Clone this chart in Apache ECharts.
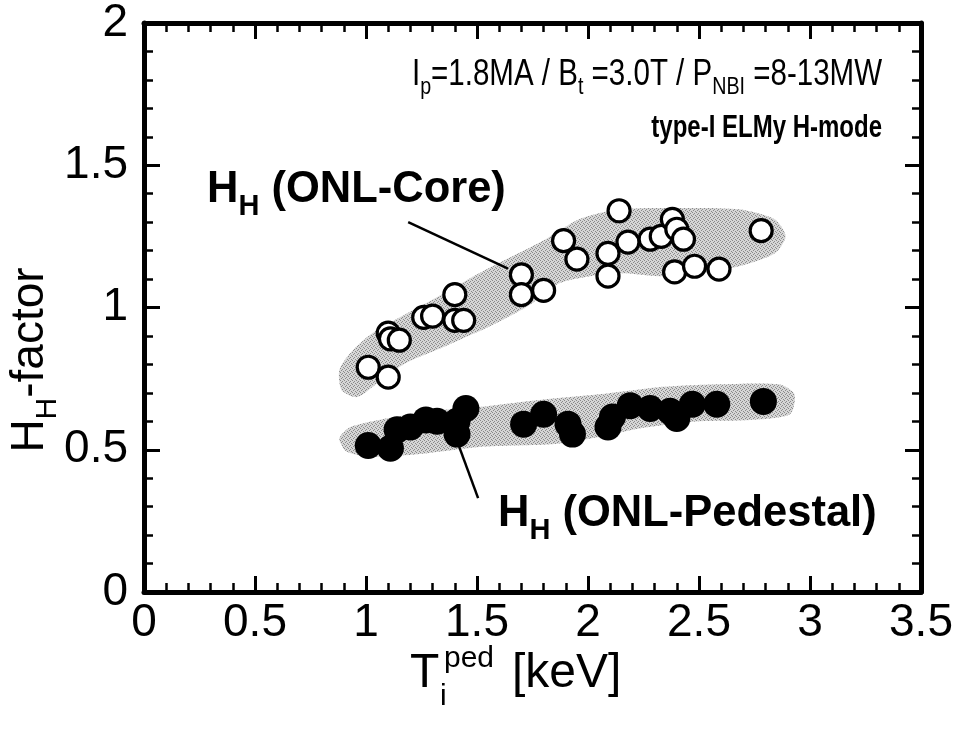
<!DOCTYPE html>
<html>
<head>
<meta charset="utf-8">
<script src="https://cdn.jsdelivr.net/npm/echarts@6/dist/echarts.min.js"></script>
<style>
  html, body { margin: 0; padding: 0; background: #fff; }
  #chart { width: 958px; height: 742px; }
</style>
</head>
<body>
<div id="chart"></div>
<script>
// H_H factor versus pedestal ion temperature, type-I ELMy H-mode
const xTickLabels = ['0', '0.5', '1', '1.5', '2', '2.5', '3', '3.5'];
const yTickLabels = ['0', '0.5', '1', '1.5', '2'];

// H_H (ONL-Core): pedestal Ti [keV] and H_H
const coreTi = [1.01, 1.10, 1.10, 1.11, 1.15, 1.26, 1.30, 1.40, 1.40, 1.44, 1.70, 1.70, 1.80, 1.89,
                1.95, 2.09, 2.09, 2.14, 2.18, 2.28, 2.33, 2.38, 2.40, 2.43, 2.39, 2.48, 2.59, 2.78];
const coreHH = [0.79, 0.755, 0.91, 0.89, 0.885, 0.965, 0.97, 1.045, 0.955, 0.955, 1.115, 1.045, 1.06, 1.235,
                1.17, 1.19, 1.11, 1.34, 1.23, 1.24, 1.25, 1.31, 1.275, 1.24, 1.125, 1.145, 1.135, 1.27];

// H_H (ONL-Pedestal)
const pedTi = [1.01, 1.11, 1.14, 1.20, 1.27, 1.32, 1.41, 1.41, 1.45, 1.71, 1.80, 1.91, 1.93,
               2.09, 2.11, 2.19, 2.28, 2.37, 2.40, 2.47, 2.58, 2.79];
const pedHH = [0.515, 0.505, 0.57, 0.58, 0.605, 0.60, 0.555, 0.60, 0.645, 0.59, 0.625, 0.59, 0.555,
               0.58, 0.615, 0.655, 0.645, 0.635, 0.61, 0.66, 0.66, 0.67];

// shaded envelopes around each group, [Ti, H_H]
const coreBand = [[0.88, 0.78], [0.93, 0.84], [1.03, 0.91], [1.33, 1.04], [1.51, 1.12], [1.66, 1.18],
                  [1.81, 1.24], [1.96, 1.31], [2.14, 1.345], [2.41, 1.35], [2.68, 1.345], [2.84, 1.31],
                  [2.89, 1.25], [2.84, 1.19], [2.68, 1.145], [2.50, 1.12], [2.32, 1.11], [2.16, 1.12],
                  [2.01, 1.11], [1.87, 1.085], [1.73, 1.005], [1.56, 0.935], [1.36, 0.865], [1.18, 0.805],
                  [1.06, 0.74], [0.96, 0.685], [0.89, 0.71]];
const pedBand = [[0.88, 0.54], [0.93, 0.58], [1.06, 0.605], [1.29, 0.635], [1.51, 0.65], [1.78, 0.675],
                 [2.05, 0.695], [2.32, 0.72], [2.59, 0.73], [2.86, 0.73], [2.93, 0.695], [2.91, 0.625],
                 [2.73, 0.605], [2.50, 0.60], [2.23, 0.575], [2.05, 0.545], [1.85, 0.52], [1.51, 0.51],
                 [1.24, 0.485], [1.02, 0.475], [0.91, 0.495]];

// leader lines from the labels to each group
const coreLeader = [[1.19, 1.30], [1.64, 1.137]];
const pedLeader = [[1.42, 0.51], [1.505, 0.33]];

const FONT = "'Liberation Sans', Arial, Helvetica, sans-serif";
const coreData = coreTi.map((t, i) => [t, coreHH[i]]);
const pedData = pedTi.map((t, i) => [t, pedHH[i]]);

// small stipple tile used to shade the envelopes
const stipple = document.createElement('canvas');
stipple.width = 4; stipple.height = 4;
(function () {
  const c = stipple.getContext('2d');
  c.fillStyle = '#d6d6d6'; c.fillRect(0, 0, 4, 4);
  c.fillStyle = '#8a8a8a';
  [[0, 0], [2, 1], [1, 2], [3, 3]].forEach(([x, y]) => c.fillRect(x, y, 1, 1));
})();

const chart = echarts.init(document.getElementById('chart'), null, { renderer: 'canvas' });

function frameAxis(extra) {
  return Object.assign({
    type: 'value',
    interval: 0.5,
    splitLine: { show: false },
    axisLine: { show: true, onZero: false, lineStyle: { color: '#000', width: 5 } },
    axisTick: { show: true, inside: true, length: 16, lineStyle: { color: '#000', width: 3 } },
    minorTick: { show: true, splitNumber: 5, length: 9, lineStyle: { color: '#000', width: 2.5 } }
  }, extra);
}

function bandSeries(points) {
  return {
    type: 'custom',
    xAxisIndex: 0, yAxisIndex: 0,
    silent: true, z: 1, clip: false,
    data: [[0, 0]],
    renderItem: (params, api) => ({
      type: 'polygon',
      shape: { points: points.map(p => api.coord(p)), smooth: 0.25 },
      style: { fill: { image: stipple, repeat: 'repeat' } }
    })
  };
}

function leader(seg) {
  return {
    silent: true, symbol: ['none', 'none'], animation: false,
    label: { show: false },
    lineStyle: { color: '#000', width: 2.5, type: 'solid' },
    data: [[{ coord: seg[0] }, { coord: seg[1] }]]
  };
}

const subRich = (size, sub, bold) => ({
  m: { fontSize: size, lineHeight: Math.round(size * 1.42), fontWeight: bold ? 'bold' : 'normal', fontFamily: FONT, fill: '#000' },
  s: { fontSize: sub, lineHeight: sub, verticalAlign: 'bottom', fontWeight: bold ? 'bold' : 'normal', fontFamily: FONT, fill: '#000' }
});

const option = {
  animation: false,
  backgroundColor: '#fff',
  grid: { left: 144, right: 37, top: 18, bottom: 150 },
  xAxis: [
    frameAxis({
      min: 0, max: 3.5, position: 'bottom',
      axisLabel: {
        show: true, margin: 8, color: '#000', fontSize: 46, fontFamily: FONT,
        formatter: (v) => xTickLabels[Math.round(v / 0.5)]
      }
    }),
    frameAxis({ min: 0, max: 3.5, position: 'top', axisLabel: { show: false } })
  ],
  yAxis: [
    frameAxis({
      min: 0, max: 2, position: 'left',
      axisLabel: {
        show: true, margin: 16, color: '#000', fontSize: 46, fontFamily: FONT,
        formatter: (v) => yTickLabels[Math.round(v / 0.5)]
      }
    }),
    frameAxis({ min: 0, max: 2, position: 'right', axisLabel: { show: false } })
  ],
  series: [
    bandSeries(coreBand),
    bandSeries(pedBand),
    {
      name: 'H_H (ONL-Core)', type: 'scatter', z: 3,
      data: coreData, symbol: 'circle', symbolSize: 22,
      itemStyle: { color: '#fff', borderColor: '#000', borderWidth: 3.2, opacity: 1 },
      markLine: leader(coreLeader)
    },
    {
      name: 'H_H (ONL-Pedestal)', type: 'scatter', z: 3,
      data: pedData, symbol: 'circle', symbolSize: 27,
      itemStyle: { color: '#000', opacity: 1 },
      markLine: leader(pedLeader)
    }
  ],
  graphic: [
    // y-axis title
    {
      type: 'text', x: 30, y: 360, rotation: Math.PI / 2,
      style: {
        text: '{m|H}{s|H}{m|-factor}', align: 'center', verticalAlign: 'middle',
        rich: subRich(46, 30, false)
      }
    },
    // x-axis title: T_i^ped [keV]
    { type: 'text', x: 410, y: 698, style: { text: 'T', fontSize: 48, fontFamily: FONT, fill: '#000', verticalAlign: 'bottom' } },
    { type: 'text', x: 440, y: 712, style: { text: 'i', fontSize: 30, fontFamily: FONT, fill: '#000', verticalAlign: 'bottom' } },
    { type: 'text', x: 444, y: 674, style: { text: 'ped', fontSize: 30, fontFamily: FONT, fill: '#000', verticalAlign: 'bottom' } },
    { type: 'text', x: 512, y: 698, style: { text: '[keV]', fontSize: 48, fontFamily: FONT, fill: '#000', verticalAlign: 'bottom' } },
    // discharge conditions
    {
      type: 'text', x: 882, y: 75, scaleX: 0.82,
      style: {
        text: '{m|I}{s|p}{m|=1.8MA / B}{s|t}{m| =3.0T / P}{s|NBI}{m| =8-13MW}',
        align: 'right', verticalAlign: 'middle',
        rich: {
          m: { fontSize: 36, lineHeight: 48, fontFamily: FONT, fill: '#000' },
          s: { fontSize: 24, lineHeight: 24, verticalAlign: 'bottom', fontFamily: FONT, fill: '#000' }
        }
      }
    },
    {
      type: 'text', x: 882, y: 128, scaleX: 0.75,
      style: {
        text: 'type-I ELMy H-mode', align: 'right', verticalAlign: 'middle',
        fontSize: 32, fontWeight: 'bold', fontFamily: FONT, fill: '#000'
      }
    },
    // group labels
    {
      type: 'text', x: 207, y: 190,
      style: { text: '{m|H}{s|H}{m| (ONL-Core)}', align: 'left', verticalAlign: 'middle', rich: subRich(43.5, 29, true) }
    },
    {
      type: 'text', x: 498, y: 514,
      style: { text: '{m|H}{s|H}{m| (ONL-Pedestal)}', align: 'left', verticalAlign: 'middle', rich: subRich(43.5, 29, true) }
    }
  ]
};

chart.setOption(option);
</script>
</body>
</html>
